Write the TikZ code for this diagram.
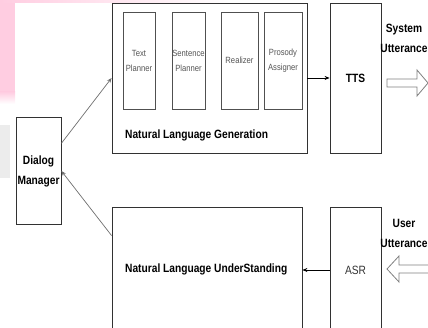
\documentclass[tikz,border=0pt]{standalone}
\usepackage{fontspec}
\setmainfont{Liberation Sans}[FakeStretch=0.85]
\usetikzlibrary{arrows.meta,calc}
\definecolor{blush}{RGB}{255,205,225}
\definecolor{haze}{RGB}{236,236,236}
\definecolor{boxline}{RGB}{50,50,50}
\definecolor{subline}{RGB}{80,80,80}
\definecolor{linkgray}{RGB}{110,110,110}
\definecolor{hollow}{RGB}{128,128,128}
\definecolor{sublabel}{RGB}{85,85,85}
\tikzset{
  box/.style={draw=boxline, line width=0.8pt, inner sep=0pt, fill=white},
  subbox/.style={draw=subline, line width=0.7pt, inner sep=0pt,
    minimum height=97pt, align=center, text=sublabel,
    font=\fontsize{9}{15}\selectfont},
  boldlabel/.style={font=\bfseries\fontsize{12}{20}\selectfont, align=center, inner sep=0pt},
  link/.style={draw=linkgray, line width=0.7pt, -{Stealth[length=5pt,width=4pt]}},
  flow/.style={draw=black, line width=0.7pt, -{Stealth[length=5pt,width=4pt]}},
  bigarrow/.style={draw=hollow, line width=0.8pt, fill=white, line join=miter}
}
\begin{document}
\begin{tikzpicture}[x=1pt,y=-1pt]
\useasboundingbox (0,0) rectangle (428,328);
\clip (0,0) rectangle (428,328);

% background tints
\fill[blush] (0,0) rectangle (15,92);
\shade[top color=blush, bottom color=white] (0,92) rectangle (15,104);
\shade[left color=blush, right color=white] (0,0) rectangle (230,2.5);
\fill[haze] (0,125) rectangle (10,178);

% generation block with its four stages
\node[box, minimum width=195pt, minimum height=150pt] (nlg) at (209.5,78) {};
\node[subbox, minimum width=32pt] (tp) at (139,60.5) {Text\\Planner};
\node[subbox, minimum width=33pt] (sp) at (188.5,60.5) {Sentence\\Planner};
\node[subbox, minimum width=37pt] (rz) at (239.5,60.5) {Realizer};
\node[subbox, minimum width=38pt] (pa) at (283,60.5) {Prosody\\Assigner};
\node[boldlabel, anchor=west] (nlglabel) at (125,135) {Natural Language Generation};

% speech synthesis
\node[box, minimum width=51pt, minimum height=150pt, boldlabel] (tts) at (355.5,78) {TTS};

% dialog manager
\node[box, minimum width=45pt, minimum height=107pt, boldlabel] (dm) at (38.5,171) {Dialog\\Manager};

% understanding block
\node[box, minimum width=190pt, minimum height=126pt] (nlu) at (207,270) {};
\node[boldlabel, anchor=west] (nlulabel) at (125,269.5) {Natural Language UnderStanding};

% speech recognition
\node[box, minimum width=51pt, minimum height=126pt, font=\fontsize{12}{14}\selectfont, text=black!80] (asr) at (355.5,270) {ASR};

% utterance captions
\node[boldlabel] (sysutt) at (404,38) {System\\Utterance};
\node[boldlabel] (userutt) at (404,233.5) {User\\Utterance};

% connectors
\draw[link] ($(dm.north east)!0.243!(dm.south east)$) -- (nlg.west);
\draw[link] ([yshift=-29pt]nlu.north west) -- (dm.east);
\draw[flow] (nlg.east) -- (tts.west);
\draw[flow] (asr.west) -- (nlu.east);

% hollow block arrows for the utterances
\draw[bigarrow] (387,79) -- (417,79) -- (417,70) -- (428,83) -- (417,96)
  -- (417,87) -- (387,87) -- cycle;
\draw[bigarrow] (430,265) -- (399,265) -- (399,256) -- (387,269) -- (399,282)
  -- (399,273) -- (430,273) -- cycle;
\end{tikzpicture}
\end{document}
